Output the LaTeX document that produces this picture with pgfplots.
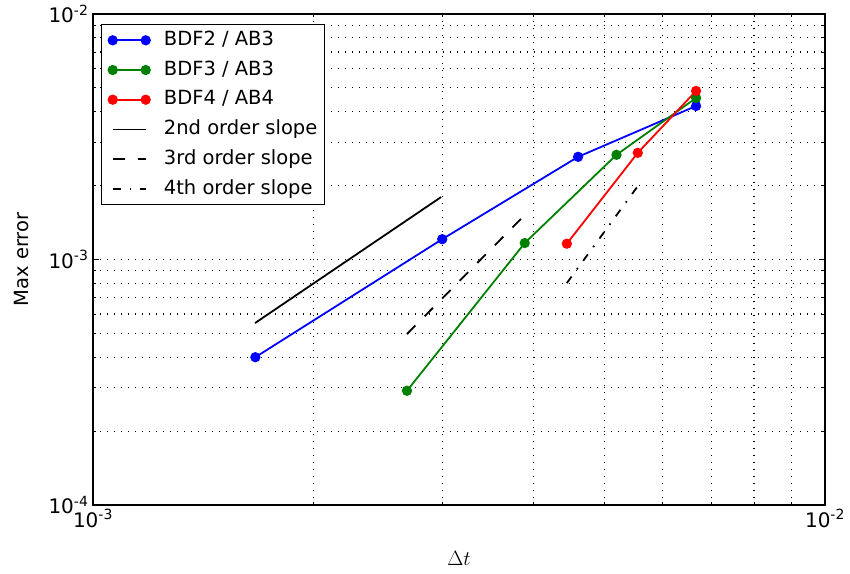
\documentclass[border=0pt]{standalone}
\usepackage{fontspec}
\setmainfont{DejaVu Sans}
\usepackage{pgfplots}
\pgfplotsset{compat=1.18}

\definecolor{mplblue}{rgb}{0,0,1}
\definecolor{mplgreen}{rgb}{0,0.5,0}
\definecolor{mplred}{rgb}{1,0,0}

\begin{document}
\begin{tikzpicture}
\begin{axis}[
  scale only axis,
  width=732pt, height=491pt,
  xmode=log, ymode=log,
  xmin=1e-3, xmax=1e-2, ymin=1e-4, ymax=1e-2,
  xtick={0.001,0.01},
  xticklabels={10\textsuperscript{-3},10\textsuperscript{-2}},
  minor xtick={0.002,0.003,0.004,0.005,0.006,0.007,0.008,0.009},
  ytick={0.0001,0.001,0.01},
  yticklabels={10\textsuperscript{-4},10\textsuperscript{-3},10\textsuperscript{-2}},
  minor ytick={0.0002,0.0003,0.0004,0.0005,0.0006,0.0007,0.0008,0.0009,
               0.002,0.003,0.004,0.005,0.006,0.007,0.008,0.009},
  grid=both,
  major grid style={black, line width=1.1pt, dash pattern=on 1.2pt off 5.8pt},
  minor grid style={black, line width=1.1pt, dash pattern=on 1.2pt off 5.8pt},
  tick align=inside,
  major tick length=6pt, minor tick length=3pt,
  every tick/.style={black, line width=0.9pt},
  axis line style={line width=1.3pt},
  tick label style={font=\fontsize{20}{24}\selectfont},
  xticklabel style={yshift=-1pt},
  yticklabel style={xshift=-1pt},
  xlabel={$\Delta t$},
  ylabel={Max error},
  every axis x label/.style={at={(axis description cs:0.5,0)}, yshift=-53pt,
    anchor=center, font=\fontsize{19.5}{23}\selectfont},
  every axis y label/.style={at={(axis description cs:0,0.5)}, xshift=-71pt,
    rotate=90, anchor=center, font=\fontsize{19.5}{23}\selectfont},
  legend cell align=left,
  legend image code/.code={\draw[mark repeat=1,mark phase=1,#1] plot coordinates {(0pt,0pt) (33pt,0pt)};},
  legend style={at={(0,1)}, anchor=north west, xshift=8pt, yshift=-10pt,
    draw=black, line width=1.1pt, inner xsep=7pt, inner ysep=6.5pt,
    font=\fontsize{19.5}{23}\selectfont, row sep=11.2pt,
    column sep=0pt,
    nodes={inner sep=0pt, text height=14.5pt, text depth=4pt},
    /tikz/every odd column/.append style={column sep=14pt}},
]
% convergence of the three scheme pairs
\addplot[mplblue, line width=1.8pt, mark=*, mark size=4.2pt, mark options={solid, fill=mplblue, draw=mplblue}]
  coordinates {(0.0016667,4.0e-4) (0.003,1.21e-3) (0.0046,2.62e-3) (0.0066667,4.22e-3)};
\addlegendentry{BDF2 / AB3}
\addplot[mplgreen, line width=1.8pt, mark=*, mark size=4.2pt, mark options={solid, fill=mplgreen, draw=mplgreen}]
  coordinates {(0.002685,2.92e-4) (0.00389,1.167e-3) (0.00519,2.67e-3) (0.0066667,4.55e-3)};
\addlegendentry{BDF3 / AB3}
\addplot[mplred, line width=1.8pt, mark=*, mark size=4.2pt, mark options={solid, fill=mplred, draw=mplred}]
  coordinates {(0.00444,1.16e-3) (0.00555,2.72e-3) (0.0066667,4.86e-3)};
\addlegendentry{BDF4 / AB4}
% reference slopes
\addplot[black, line width=1.8pt] coordinates {(0.001665,5.51e-4) (0.00299,1.797e-3)};
\addlegendentry{2nd order slope}
\addplot[black, line width=1.8pt, dash pattern=on 12pt off 13pt] coordinates {(0.002685,4.97e-4) (0.00389,1.518e-3)};
\addlegendentry{3rd order slope}
\addplot[black, line width=1.8pt, dash pattern=on 8pt off 9pt on 1.6pt off 9pt] coordinates {(0.00444,8.02e-4) (0.00555,1.99e-3)};
\addlegendentry{4th order slope}
\end{axis}
\pgfresetboundingbox
\path[use as bounding box] (-93pt,-68pt) rectangle (757pt,505pt);
\end{tikzpicture}
\end{document}
